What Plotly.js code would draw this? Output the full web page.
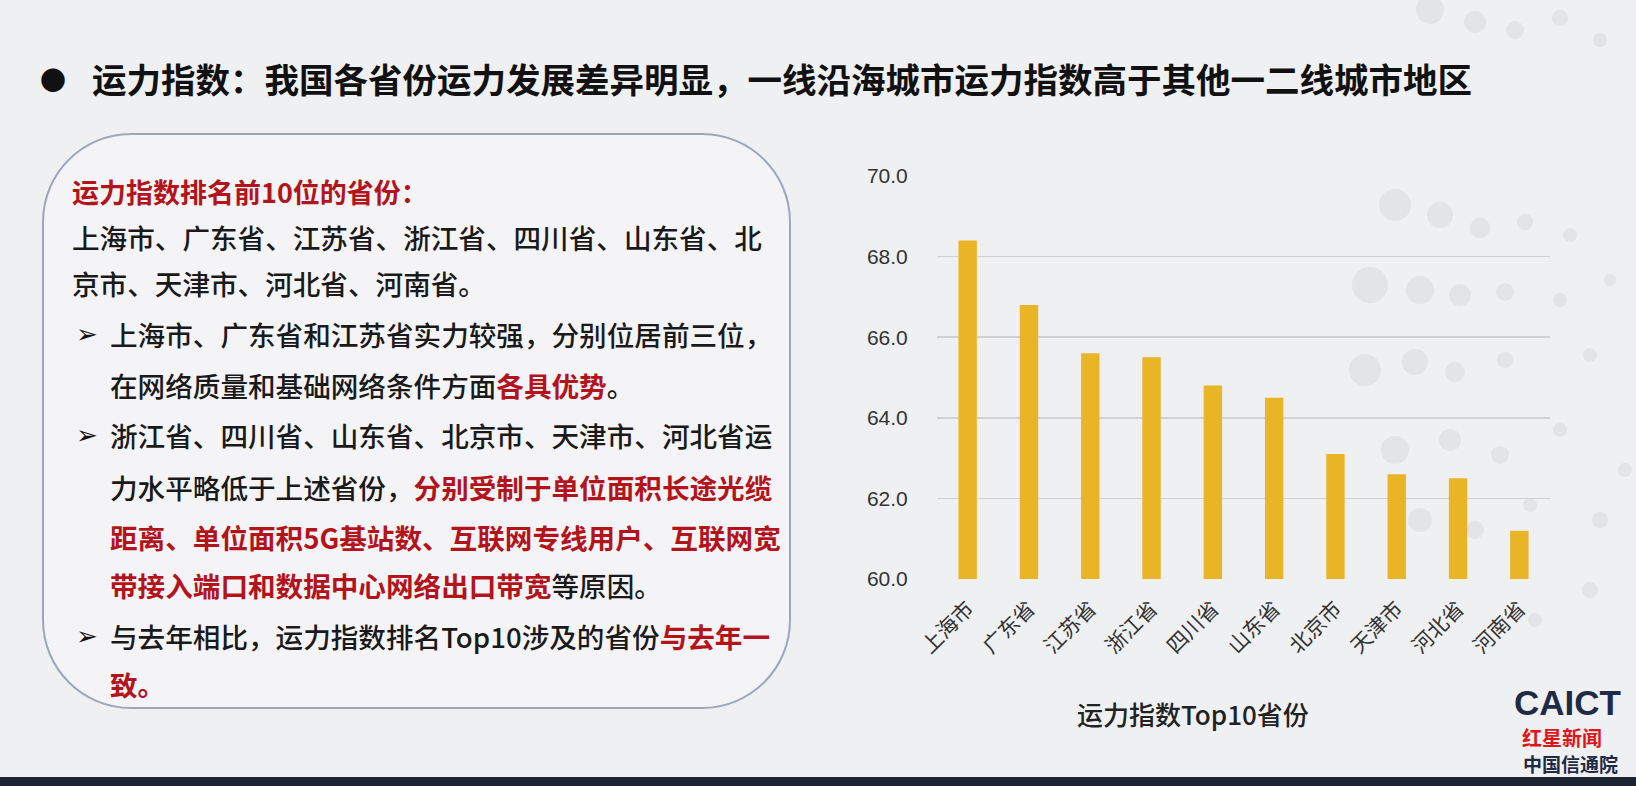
<!DOCTYPE html>
<html><head><meta charset="utf-8">
<script src="https://cdn.plot.ly/plotly-3.0.1.min.js"></script>
<style>html,body{margin:0;padding:0;background:#eff0f2;}#chart{width:1636px;height:786px;}</style>
</head><body><div id="chart"></div>
<script>
// ---- data ----
const provinces = ["上海市","广东省","江苏省","浙江省","四川省","山东省","北京市","天津市","河北省","河南省"];
const indexValues = [68.4, 66.8, 65.6, 65.5, 64.8, 64.5, 63.1, 62.6, 62.5, 61.2];
const yTicks = [60, 62, 64, 66, 68, 70];
const yTickLabels = ["60.0","62.0","64.0","66.0","68.0","70.0"];
const xTitle = "运力指数Top10省份";
const slideTitle = "运力指数：我国各省份运力发展差异明显，一线沿海城市运力指数高于其他一二线城市地区";

// ---- helpers (pixel -> paper) ----
const W = 1636, H = 786;
const px = x => x / W;
const py = y => 1 - y / H;
const RED = "#b3141c";
const red = s => '<span style="color:' + RED + '"><b>' + s + '</b></span>';

const trace = {
  type: "bar", x: provinces, y: indexValues,
  marker: {color: "#E9B527"}, hoverinfo: "x+y"
};

// rounded box with circular corners
function rbox(x0, y0, x1, y1, r) {
  const k = 0.5523 * r;
  const P = (x, y) => px(x) + "," + py(y);
  return "M " + P(x0 + r, y0) + " L " + P(x1 - r, y0) +
    " C " + P(x1 - r + k, y0) + " " + P(x1, y0 + r - k) + " " + P(x1, y0 + r) +
    " L " + P(x1, y1 - r) +
    " C " + P(x1, y1 - r + k) + " " + P(x1 - r + k, y1) + " " + P(x1 - r, y1) +
    " L " + P(x0 + r, y1) +
    " C " + P(x0 + r - k, y1) + " " + P(x0, y1 - r + k) + " " + P(x0, y1 - r) +
    " L " + P(x0, y0 + r) +
    " C " + P(x0, y0 + r - k) + " " + P(x0 + r - k, y0) + " " + P(x0 + r, y0) + " Z";
}

const shapes = [
  {type:"path", xref:"paper", yref:"paper", path: rbox(43,134,790,708,88),
   fillcolor:"#f4f4f6", line:{color:"#9ea7ba", width:2}, layer:"below"},
  {type:"rect", xref:"paper", yref:"paper", x0:0, x1:1, y0:0, y1:py(777),
   fillcolor:"#1c2433", line:{width:0}}
];
// faint decorative dots (background pattern, upper right)
const dots = [[1430,10,14],[1475,22,11],[1515,30,9],[1560,18,8],[1600,40,7],
  [1395,205,16],[1440,215,13],[1480,228,10],[1525,222,8],[1570,235,7],
  [1370,285,18],[1420,290,14],[1460,295,11],[1505,292,9],[1560,300,7],[1610,280,6],
  [1365,370,16],[1415,362,13],[1455,372,10],[1505,360,8],[1590,355,7],
  [1395,450,14],[1450,440,11],[1500,455,9],[1560,430,7],
  [1420,520,12],[1475,530,9],[1530,505,7],[1600,520,8],[1590,590,8],[1535,620,7],[1625,470,7]];
dots.forEach(d => shapes.push({type:"circle", xref:"paper", yref:"paper", layer:"below",
  x0:px(d[0]-d[2]), x1:px(d[0]+d[2]), y0:py(d[1]+d[2]), y1:py(d[1]-d[2]),
  fillcolor:"rgba(175,180,192,0.2)", line:{width:0}}));

const CJK = "Noto Sans CJK SC, sans-serif";
const ann = [];
function line(x, y, text, size, color, fam) {
  ann.push({xref:"paper", yref:"paper", x:px(x), y:py(y), xanchor:"left", yanchor:"middle",
    showarrow:false, text:text, font:{family:fam||CJK, size:size||27.6, color:color||"#1a1a1a", weight:500}});
}
const ARW = "DejaVu Sans, sans-serif";
// slide title
line(38, 78, "●", 26, "#111");
line(90, 78, "<b>" + slideTitle + "</b>", 34.5, "#111");
// box content
line(70, 192, "<b>运力指数排名前10位的省份：</b>", 27, RED);
line(70, 237, "上海市、广东省、江苏省、浙江省、四川省、山东省、北");
line(70, 283, "京市、天津市、河北省、河南省。");
line(74, 334, "➢", 26, "#111", ARW);
line(108, 334, "上海市、广东省和江苏省实力较强，分别位居前三位，");
line(108, 385, "在网络质量和基础网络条件方面" + red("各具优势") + "。");
line(74, 435, "➢", 26, "#111", ARW);
line(108, 435, "浙江省、四川省、山东省、北京市、天津市、河北省运");
line(108, 487, "力水平略低于上述省份，" + red("分别受制于单位面积长途光缆"));
line(108, 537, red("距离、单位面积5G基站数、互联网专线用户、互联网宽"));
line(108, 585, red("带接入端口和数据中心网络出口带宽") + "等原因。");
line(74, 636, "➢", 26, "#111", ARW);
line(108, 636, "与去年相比，运力指数排名Top10涉及的省份" + red("与去年一"));
line(108, 684, red("致。"));
// x axis title (placed as in the reference, left of plot centre)
ann.push({xref:"paper", yref:"paper", x:px(1193), y:py(713), xanchor:"center", yanchor:"middle", showarrow:false,
  text:xTitle, font:{family:CJK, size:26, color:"#222", weight:500}});
// logo
ann.push({xref:"paper", yref:"paper", x:px(1567), y:py(702), xanchor:"center", yanchor:"middle", showarrow:false,
  text:"<b>CAICT</b>", font:{family:"Liberation Sans, Arial", size:35, color:"#1f2a44"}});
ann.push({xref:"paper", yref:"paper", x:px(1562), y:py(737), xanchor:"center", yanchor:"middle", showarrow:false,
  text:"<b>红星新闻</b>", font:{family:CJK, size:20, color:"#e0141b"}});
ann.push({xref:"paper", yref:"paper", x:px(1570), y:py(763), xanchor:"center", yanchor:"middle", showarrow:false,
  text:"<b>中国信通院</b>", font:{family:CJK, size:19, color:"#1f2a44"}});

const layout = {
  width: W, height: H,
  paper_bgcolor: "#eff0f2", plot_bgcolor: "rgba(0,0,0,0)",
  margin: {l:0, r:0, t:0, b:0},
  showlegend: false, bargap: 0.7,
  xaxis: {domain:[px(937), px(1550)], anchor:"y", tickangle:-45, showgrid:false, zeroline:false,
    showline:false, ticks:"outside", ticklen:8, tickcolor:"rgba(0,0,0,0)",
    tickfont:{family:CJK, size:21, color:"#333"}},
  yaxis: {domain:[py(579), py(176)], anchor:"x", range:[60,70], tickvals:yTicks, ticktext:yTickLabels,
    showgrid:true, gridcolor:"#cfd1d4", gridwidth:1.5, zeroline:false, showline:false,
    ticks:"outside", ticklen:24, tickcolor:"rgba(0,0,0,0)",
    tickfont:{family:"Liberation Sans Narrow, Liberation Sans, Arial", size:21, color:"#333"}},
  shapes: shapes, annotations: ann
};
Plotly.newPlot("chart", [trace], layout, {displayModeBar:false, staticPlot:true});
</script></body></html>
